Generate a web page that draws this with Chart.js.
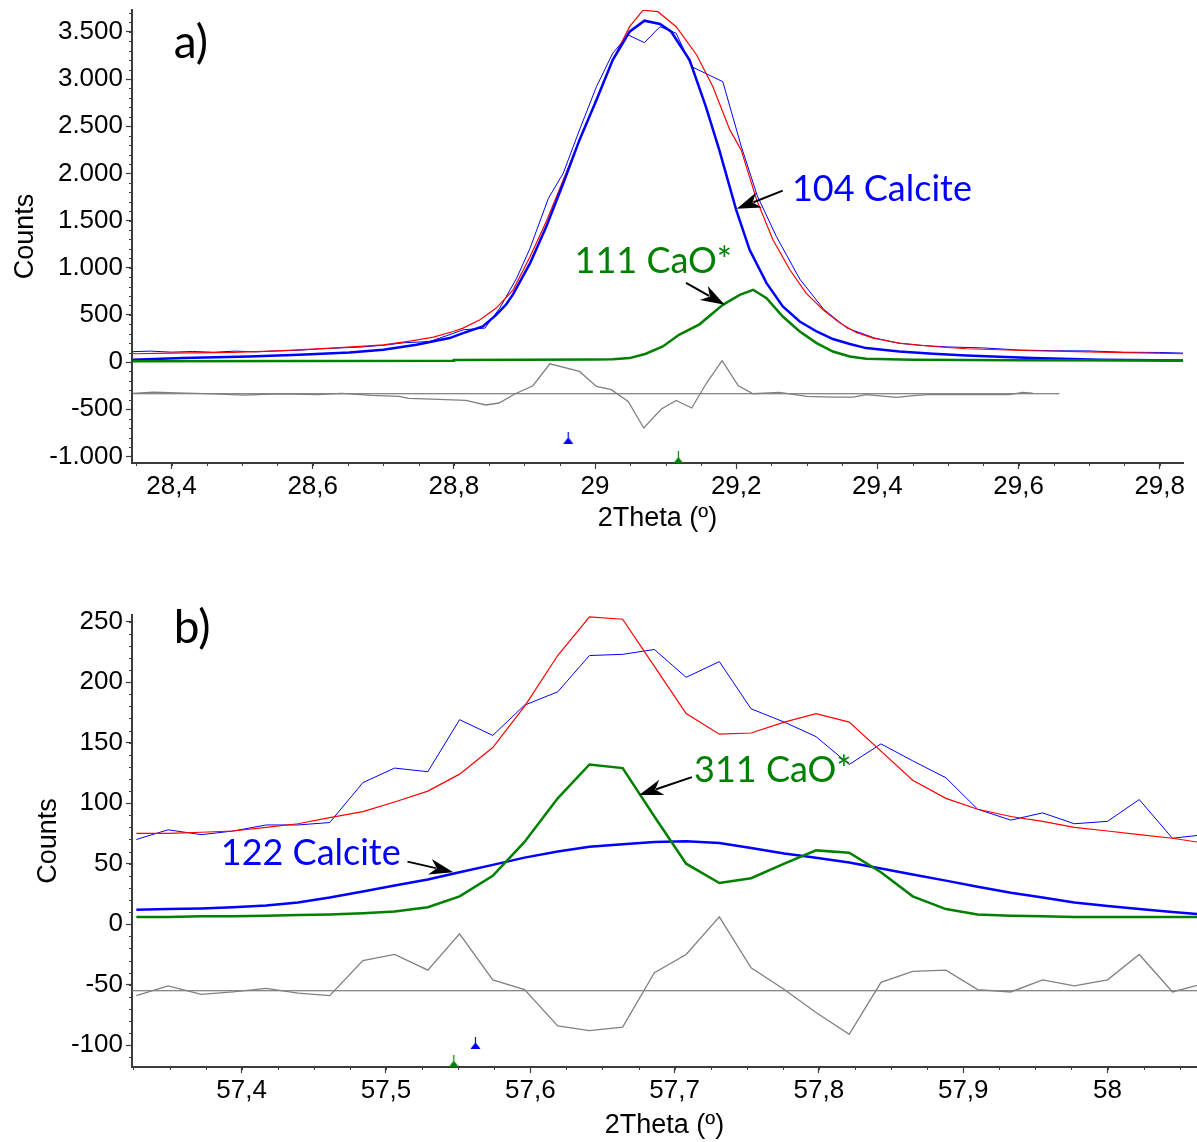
<!DOCTYPE html>
<html>
<head>
<meta charset="utf-8">
<script src="https://cdn.jsdelivr.net/npm/chart.js@4.4.1/dist/chart.umd.min.js"></script>
<style>
  html, body { margin: 0; padding: 0; background: #fff; }
  #wrap { position: relative; width: 1197px; height: 1142px; }
  .panel { position: absolute; left: 0; width: 1197px; }
  #pa { top: 0; height: 545px; }
  #pb { top: 590px; height: 552px; }
</style>
</head>
<body>
<div id="wrap">
  <div class="panel" id="pa"><canvas id="ca"></canvas></div>
  <div class="panel" id="pb"><canvas id="cb"></canvas></div>
</div>
<script>
// ---- panel a) : 104 calcite / 111 CaO around 29 deg 2theta ----
const aTicksX = [28.4, 28.6, 28.8, 29.0, 29.2, 29.4, 29.6, 29.8]
const aTicksY = [-1000, -500, 0, 500, 1000, 1500, 2000, 2500, 3000, 3500]

// observed pattern (thin blue)
const aObsX = [28.345, 28.37, 28.40, 28.43, 28.46, 28.49, 28.52, 28.55, 28.58, 28.61, 28.64, 28.67, 28.70, 28.73, 28.766, 28.79, 28.813, 28.844, 28.865, 28.889, 28.908, 28.934, 28.955, 28.978, 29.002, 29.025, 29.047, 29.070, 29.092, 29.115, 29.137, 29.181, 29.207, 29.23, 29.257, 29.29, 29.324, 29.357, 29.396, 29.43, 29.46, 29.5, 29.55, 29.6, 29.65, 29.7, 29.75, 29.8, 29.833]
const aObsY = [110, 116, 105, 112, 104, 116, 108, 118, 125, 140, 150, 160, 178, 205, 218, 280, 342, 360, 572, 890, 1208, 1737, 2002, 2461, 2919, 3273, 3467, 3386, 3555, 3485, 3131, 2972, 2290, 1760, 1330, 880, 560, 360, 255, 200, 178, 160, 150, 128, 120, 118, 104, 102, 95]

// calculated pattern (red)
const aCalcX = [28.345, 28.40, 28.487, 28.55, 28.6, 28.65, 28.7, 28.74, 28.771, 28.799, 28.813, 28.837, 28.86, 28.884, 28.908, 28.931, 28.955, 28.978, 29.002, 29.025, 29.049, 29.068, 29.089, 29.115, 29.144, 29.167, 29.191, 29.207, 29.229, 29.252, 29.276, 29.299, 29.323, 29.347, 29.37, 29.394, 29.431, 29.479, 29.526, 29.62, 29.715, 29.833]
const aCalcY = [88, 95, 102, 118, 138, 158, 183, 225, 265, 324, 360, 448, 572, 766, 1119, 1489, 1931, 2355, 2779, 3202, 3555, 3730, 3714, 3555, 3255, 2919, 2461, 2249, 1719, 1296, 978, 731, 554, 413, 314, 254, 201, 165, 141, 120, 106, 88]

// calcite 104 component (thick blue)
const aCalciteX = [28.345, 28.416, 28.51, 28.581, 28.652, 28.7, 28.747, 28.794, 28.813, 28.841, 28.86, 28.874, 28.884, 28.908, 28.931, 28.955, 28.978, 29.002, 29.025, 29.049, 29.070, 29.092, 29.108, 29.134, 29.157, 29.176, 29.2, 29.219, 29.243, 29.266, 29.29, 29.314, 29.337, 29.361, 29.384, 29.431, 29.479, 29.526, 29.62, 29.715, 29.833]
const aCalciteY = [24, 42, 59, 77, 102, 130, 183, 254, 307, 377, 500, 610, 720, 1049, 1436, 1896, 2355, 2779, 3202, 3502, 3619, 3584, 3502, 3202, 2708, 2249, 1613, 1190, 837, 589, 430, 324, 244, 191, 148, 112, 88, 70, 42, 24, 17]

// CaO 111 component (green)
const aCaoX = [28.345, 28.6, 28.799, 28.8, 29.0, 29.025, 29.049, 29.072, 29.096, 29.119, 29.148, 29.181, 29.205, 29.224, 29.243, 29.266, 29.29, 29.314, 29.337, 29.361, 29.384, 29.45, 29.6, 29.833]
const aCaoY = [8, 10, 14, 22, 26, 30, 42, 88, 165, 289, 400, 607, 713, 766, 678, 483, 324, 201, 112, 59, 35, 24, 20, 17]

// difference curve (grey) and its zero level
const aDiffX = [28.345, 28.374, 28.42, 28.46, 28.504, 28.55, 28.608, 28.641, 28.684, 28.722, 28.736, 28.769, 28.817, 28.845, 28.864, 28.887, 28.912, 28.936, 28.978, 29.002, 29.023, 29.047, 29.069, 29.094, 29.115, 29.137, 29.158, 29.18, 29.203, 29.224, 29.261, 29.30, 29.337, 29.366, 29.384, 29.427, 29.455, 29.479, 29.53, 29.587, 29.606, 29.62]
const aDiffY = [-332, -318, -330, -338, -350, -336, -346, -333, -353, -364, -386, -392, -407, -455, -434, -336, -251, -18, -99, -258, -293, -417, -699, -498, -407, -487, -222, 14, -251, -336, -322, -364, -371, -371, -346, -375, -354, -343, -346, -346, -322, -329]
const aZeroX = [28.345, 29.658]
const aZeroY = [-336, -336]

// reflection markers
const aMarkCalcite = [{ x: 28.962, y: -802 }]
const aMarkCao = [{ x: 29.118, y: -1010 }]

// ---- panel b) : 122 calcite / 311 CaO around 57.7 deg 2theta ----
const bTicksX = [57.4, 57.5, 57.6, 57.7, 57.8, 57.9, 58.0]
const bTicksY = [-100, -50, 0, 50, 100, 150, 200, 250]

const bX = [57.327, 57.349, 57.372, 57.394, 57.417, 57.439, 57.461, 57.484, 57.506, 57.529, 57.551, 57.574, 57.596, 57.619, 57.641, 57.664, 57.686, 57.708, 57.731, 57.753, 57.776, 57.798, 57.821, 57.843, 57.865, 57.888, 57.910, 57.933, 57.955, 57.977, 58.000, 58.022, 58.045, 58.067]
const bObs = [70, 78, 74, 77, 82, 82, 84, 117, 129, 126, 169, 156, 181, 192, 222, 223, 227, 204, 217, 178, 167, 155, 132, 149, 135, 121, 95, 86, 92, 83, 85, 103, 71, 74]
const bCalc = [75, 75, 76, 77, 80, 83, 88, 93, 101, 110, 124, 146, 180, 222, 254, 252, 213, 174, 157, 158, 167, 174, 167, 143, 119, 104, 95, 89, 85, 80, 77, 74, 71, 67]
const bCalcite = [12, 12.5, 13, 14, 15.5, 18, 22, 27, 32, 37, 43, 49, 55, 60, 64, 66, 68, 68.5, 67, 63, 58.5, 55, 51, 46, 41, 36, 31, 26, 22, 18, 15, 12.5, 10, 8]
const bCao = [6, 6, 6.5, 6.5, 7, 7.5, 8, 9, 10.5, 14, 23, 40, 68, 104, 132, 129, 89, 50, 34, 38, 50, 61, 59, 43, 23, 12.5, 8, 7, 6.5, 6, 6, 6, 6, 6]
const bDiff = [-59, -51, -58, -56, -53, -57, -59, -30, -25, -38, -8, -46, -54, -84, -88, -85, -40, -25, 6, -36, -54, -73, -91, -48, -39, -38, -54, -56, -46, -51, -46, -25, -56, -49]
const bZeroX = [57.324, 58.062]
const bZeroY = [-55, -55]

const bMarkCalcite = [{ x: 57.562, y: -98 }]
const bMarkCao = [{ x: 57.547, y: -113 }]

// ---- styling ----
const AXIS = '#3c3c3c'
const SANS = "'Liberation Sans', Arial, sans-serif"
const NOTE_FONT = "36px Lato, 'Noto Sans', sans-serif"
const PANEL_FONT = "46px Lato, 'Noto Sans', sans-serif"
const BLUE = '#0000ff'
const RED = '#ff0000'
const GREEN = '#008000'
const GREY = '#808080'

function pts (xs, ys) { return xs.map((x, i) => ({ x, y: ys[i] })) }

function line (data, color, width) {
  return { data, borderColor: color, borderWidth: width, pointRadius: 0, tension: 0, fill: false }
}

// little reflection tick: stem plus filled triangle
function markerImage (color) {
  const c = document.createElement('canvas')
  c.width = 11; c.height = 12
  const g = c.getContext('2d')
  g.strokeStyle = color; g.fillStyle = color; g.lineWidth = 1.2
  g.beginPath(); g.moveTo(5.5, 0); g.lineTo(5.5, 7); g.stroke()
  g.beginPath(); g.moveTo(0.5, 12); g.lineTo(10.5, 12); g.lineTo(5.5, 5.5); g.closePath(); g.fill()
  return c
}

function marker (data, color) {
  return { data, showLine: false, pointStyle: markerImage(color), pointRadius: 6, borderColor: color, backgroundColor: color, clip: false }
}

function fmtDec (v) {
  const r = Math.round(v * 10) / 10
  return String(r).replace('.', ',')
}
function fmtThousands (v) {
  const s = Math.abs(Math.round(v)).toString().replace(/\B(?=(\d{3})+(?!\d))/g, '.')
  return (v < 0 ? '-' : '') + s
}

function drawArrow (ctx, x1, y1, x2, y2) {
  const ang = Math.atan2(y2 - y1, x2 - x1)
  const len = 24, half = 8
  const bx = x2 - Math.cos(ang) * len, by = y2 - Math.sin(ang) * len
  const nx = -Math.sin(ang), ny = Math.cos(ang)
  ctx.strokeStyle = '#000'; ctx.fillStyle = '#000'; ctx.lineWidth = 2
  ctx.beginPath(); ctx.moveTo(x1, y1); ctx.lineTo(bx + Math.cos(ang) * 6, by + Math.sin(ang) * 6); ctx.stroke()
  ctx.beginPath()
  ctx.moveTo(x2, y2)
  ctx.lineTo(bx + nx * half, by + ny * half)
  ctx.lineTo(bx + Math.cos(ang) * 7, by + Math.sin(ang) * 7)
  ctx.lineTo(bx - nx * half, by - ny * half)
  ctx.closePath(); ctx.fill()
}

// text labels and arrows, placed in data coordinates
function notesPlugin (texts, arrows) {
  return {
    id: 'notes',
    afterDatasetsDraw (chart) {
      const { ctx, scales: { x, y } } = chart
      ctx.save()
      ctx.textBaseline = 'alphabetic'
      ctx.textAlign = 'left'
      texts.forEach(t => {
        ctx.font = t.big ? PANEL_FONT : NOTE_FONT
        ctx.fillStyle = t.color
        ctx.fillText(t.text, x.getPixelForValue(t.x), y.getPixelForValue(t.y))
      })
      arrows.forEach(a => drawArrow(ctx, x.getPixelForValue(a.x1), y.getPixelForValue(a.y1), x.getPixelForValue(a.x2), y.getPixelForValue(a.y2)))
      ctx.restore()
    }
  }
}

// short minor tick marks on both axes
function minorTicksPlugin (stepX, stepY) {
  return {
    id: 'minorTicks',
    afterDraw (chart) {
      const { ctx, chartArea: { left, bottom }, scales: { x, y } } = chart
      ctx.save()
      ctx.strokeStyle = AXIS
      ctx.lineWidth = 1
      ctx.beginPath()
      for (let v = Math.ceil(x.min / stepX) * stepX; v <= x.max + 1e-9; v += stepX) {
        const px = Math.round(x.getPixelForValue(v)) + 0.5
        ctx.moveTo(px, bottom); ctx.lineTo(px, bottom + 3)
      }
      for (let v = Math.ceil(y.min / stepY) * stepY; v <= y.max + 1e-9; v += stepY) {
        const py = Math.round(y.getPixelForValue(v)) + 0.5
        ctx.moveTo(left, py); ctx.lineTo(left - 3, py)
      }
      ctx.stroke()
      ctx.restore()
    }
  }
}

function makeChart (canvas, cfg) {
  return new Chart(canvas, {
    type: 'line',
    data: { datasets: cfg.datasets },
    options: {
      responsive: true,
      maintainAspectRatio: false,
      animation: false,
      events: [],
      layout: { padding: cfg.padding, autoPadding: false },
      plugins: { legend: { display: false }, tooltip: { enabled: false } },
      scales: {
        x: {
          type: 'linear',
          min: cfg.xMin, max: cfg.xMax,
          afterBuildTicks: s => { s.ticks = cfg.ticksX.map(v => ({ value: v })) },
          afterFit: s => { s.height = cfg.xHeight; s.paddingLeft = 0; s.paddingRight = 0 },
          ticks: { callback: v => fmtDec(v), font: { family: SANS, size: 26 }, color: '#000', padding: 2, maxRotation: 0, autoSkip: false },
          grid: { drawOnChartArea: false, tickLength: 6, tickColor: AXIS, tickWidth: 1.2 },
          border: { color: AXIS, width: 2 },
          title: { display: true, text: '2Theta (º)', font: { family: SANS, size: 27 }, color: '#000', padding: { top: 0, bottom: cfg.xTitlePad } }
        },
        y: {
          type: 'linear',
          min: cfg.yMin, max: cfg.yMax,
          afterBuildTicks: s => { s.ticks = cfg.ticksY.map(v => ({ value: v })) },
          afterFit: s => { s.width = 132; s.paddingTop = 0; s.paddingBottom = 0 },
          ticks: { callback: v => fmtThousands(v), font: { family: SANS, size: 26 }, color: '#000', padding: 3, autoSkip: false },
          grid: { drawOnChartArea: false, tickLength: 6, tickColor: AXIS, tickWidth: 1.2 },
          border: { color: AXIS, width: 2 },
          title: { display: true, text: 'Counts', font: { family: SANS, size: 27 }, color: '#000', padding: { top: cfg.yTitlePad, bottom: 0 } }
        }
      }
    },
    plugins: [minorTicksPlugin(cfg.minorX, cfg.minorY), notesPlugin(cfg.texts, cfg.arrows)]
  })
}

// panel a
makeChart(document.getElementById('ca'), {
  xMin: 28.344, xMax: 29.833, yMin: -1070, yMax: 3732,
  ticksX: aTicksX, ticksY: aTicksY, minorX: 0.05, minorY: 100,
  padding: { top: 10, right: 14, left: 0, bottom: 0 },
  xHeight: 82, xTitlePad: 10, yTitlePad: 9,
  datasets: [
    marker(aMarkCalcite, BLUE),
    marker(aMarkCao, GREEN),
    line(pts(aCaoX, aCaoY), GREEN, 2.5),
    line(pts(aCalciteX, aCalciteY), BLUE, 2.5),
    line(pts(aCalcX, aCalcY), RED, 1.2),
    line(pts(aObsX, aObsY), BLUE, 1),
    line(pts(aDiffX, aDiffY), GREY, 1.3),
    line(pts(aZeroX, aZeroY), '#606060', 1.2)
  ],
  texts: [
    { text: 'a)', x: 28.403, y: 3223, color: '#000', big: true },
    { text: '104 Calcite', x: 29.279, y: 1709, color: BLUE },
    { text: '111 CaO*', x: 28.971, y: 946, color: GREEN }
  ],
  arrows: [
    { x1: 29.266, y1: 1817, x2: 29.2007, y2: 1624 },
    { x1: 29.129, y1: 840, x2: 29.1837, y2: 607 }
  ]
})

// panel b
makeChart(document.getElementById('cb'), {
  xMin: 57.324, xMax: 58.062, yMin: -118, yMax: 255.5,
  ticksX: bTicksX, ticksY: bTicksY, minorX: 0.025, minorY: 10,
  padding: { top: 25, right: 0, left: 0, bottom: 0 },
  xHeight: 75, xTitlePad: 0, yTitlePad: 32,
  datasets: [
    marker(bMarkCalcite, BLUE),
    marker(bMarkCao, GREEN),
    line(pts(bX, bCao), GREEN, 2.5),
    line(pts(bX, bCalcite), BLUE, 2.5),
    line(pts(bX, bCalc), RED, 1.2),
    line(pts(bX, bObs), BLUE, 1),
    line(pts(bX, bDiff), GREY, 1.3),
    line(pts(bZeroX, bZeroY), '#606060', 1.2)
  ],
  texts: [
    { text: 'b)', x: 57.353, y: 232, color: '#000', big: true },
    { text: '122 Calcite', x: 57.3855, y: 48.8, color: BLUE },
    { text: '311 CaO*', x: 57.7135, y: 117.4, color: GREEN }
  ],
  arrows: [
    { x1: 57.5149, y1: 51.7, x2: 57.5467, y2: 43.0 },
    { x1: 57.712, y1: 121.5, x2: 57.6754, y2: 106.7 }
  ]
})
</script>
</body>
</html>
